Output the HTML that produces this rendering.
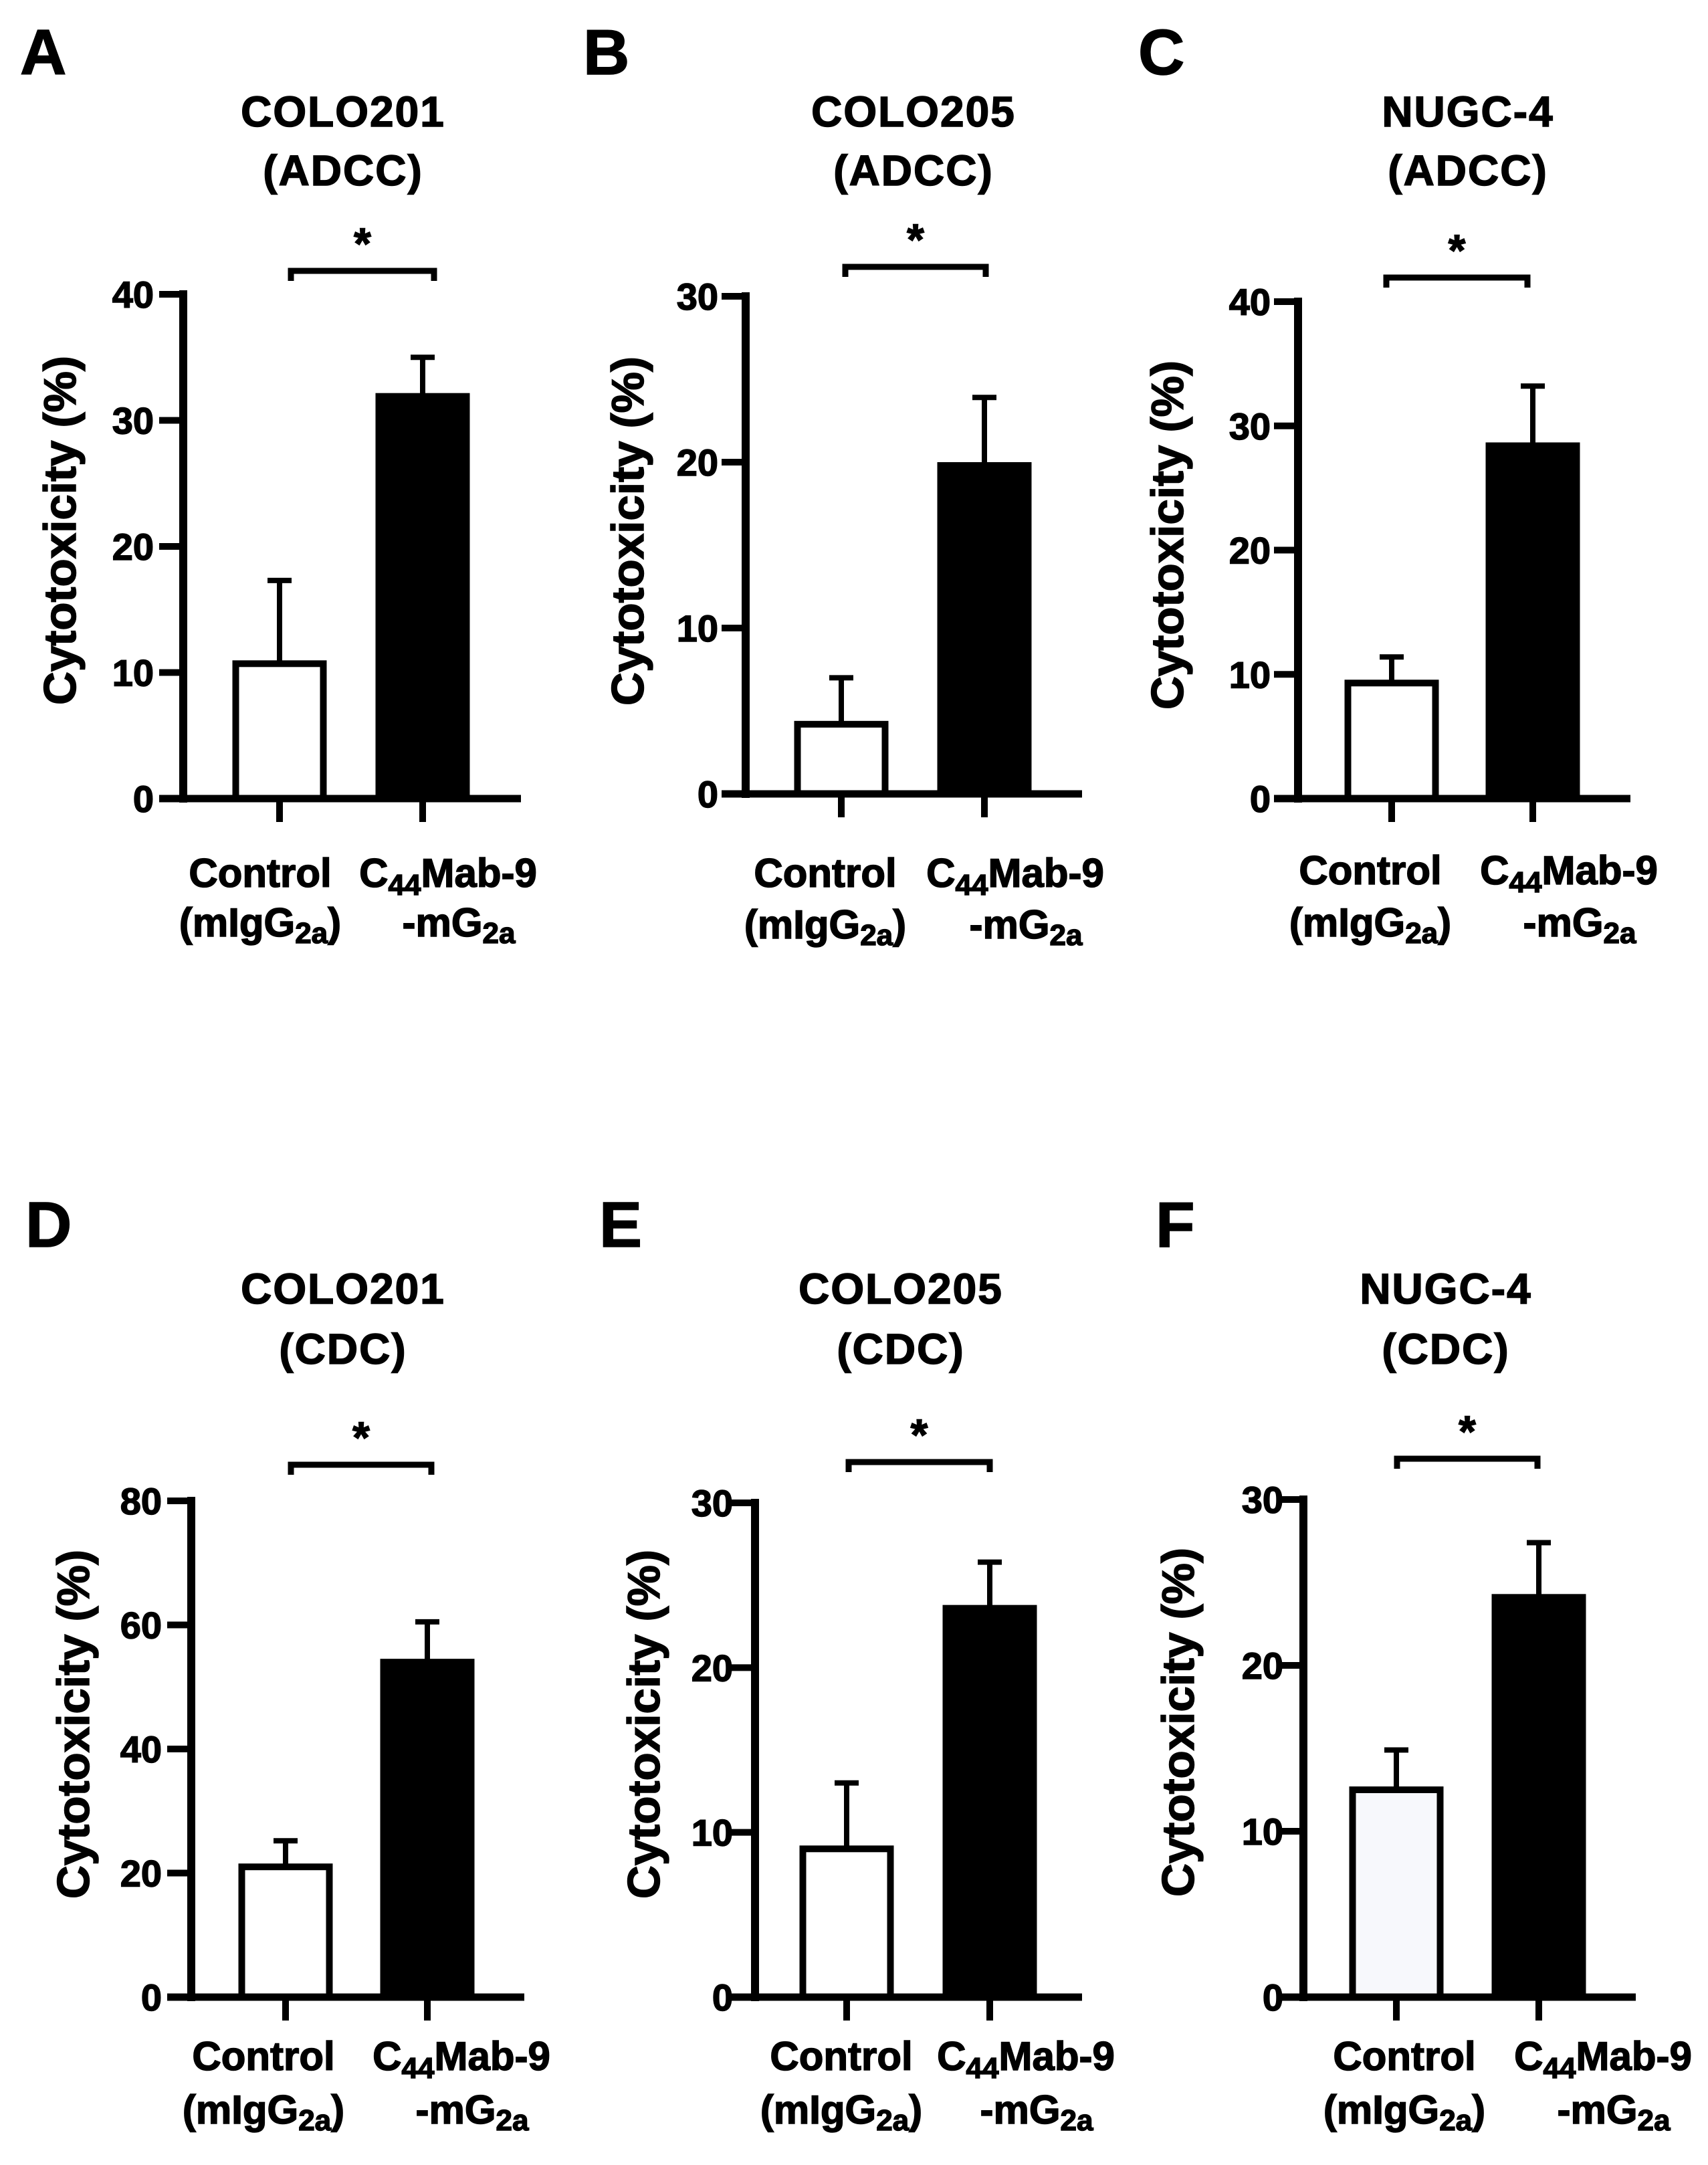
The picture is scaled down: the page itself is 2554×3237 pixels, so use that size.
<!DOCTYPE html>
<html><head><meta charset="utf-8"><style>
html,body{margin:0;padding:0;background:#fff;}
svg{display:block;}
text{font-family:"Liberation Sans",Arial,sans-serif;font-weight:bold;fill:#000;stroke:#000;stroke-width:1.5;}
</style></head><body>
<svg id="fig" width="2554" height="3237" viewBox="0 0 2554 3237" xmlns="http://www.w3.org/2000/svg"></svg>
<script>
// ---- data ----
const panelLetters = ["A","B","C","D","E","F"];
const titleLine1 = ["COLO201","COLO205","NUGC-4","COLO201","COLO205","NUGC-4"];
const titleLine2 = ["(ADCC)","(ADCC)","(ADCC)","(CDC)","(CDC)","(CDC)"];
const yMax = [40,30,40,80,30,30];
const yTicks = [[0,10,20,30,40],[0,10,20,30],[0,10,20,30,40],[0,20,40,60,80],[0,10,20,30],[0,10,20,30]];
const controlValues = [10.7,4.2,9.3,21.0,9.0,12.5];
const controlErrors = [6.6,2.8,2.1,4.2,4.0,2.4];
const mabValues = [31.9,19.8,28.4,54.0,23.6,24.1];
const mabErrors = [3.1,4.1,4.8,6.5,2.8,3.3];

// ---- layout (pixel geometry, not data) ----
const L = [
 {ax:274,yT:440,y0:1194,xr:779,t1:418,t2:632,by:405,bx1:435,bx2:649,lx:30,tcx:513,tr:230,atx:113,c1:389,c2:670,tb1:189,tb2:277,xb1:1326,xb2:1400,lb:111,ctrlFill:"#fff",ac:793},
 {ax:1115,yT:443,y0:1187,xr:1618,t1:1258,t2:1472,by:399,bx1:1264,bx2:1474,lx:872,tcx:1366,tr:1074,atx:962,c1:1234,c2:1518,tb1:189,tb2:277,xb1:1326,xb2:1403,lb:111,ctrlFill:"#fff",ac:794},
 {ax:1941,yT:451,y0:1194,xr:2438,t1:2081,t2:2292,by:415,bx1:2073,bx2:2284,lx:1702,tcx:2195,tr:1900,atx:1769,c1:2049,c2:2346,tb1:189,tb2:277,xb1:1322,xb2:1400,lb:111,ctrlFill:"#fff",ac:800},
 {ax:286,yT:2244,y0:2986,xr:784,t1:427,t2:639,by:2190,bx1:435,bx2:645,lx:38,tcx:513,tr:242,atx:133,c1:394,c2:690,tb1:1949,tb2:2039,xb1:3095,xb2:3175,lb:1864,ctrlFill:"#fff",ac:2578},
 {ax:1129,yT:2247,y0:2986,xr:1618,t1:1266,t2:1480,by:2186,bx1:1269,bx2:1480,lx:896,tcx:1347,tr:1096,atx:986,c1:1258,c2:1534,tb1:1949,tb2:2039,xb1:3095,xb2:3175,lb:1864,ctrlFill:"#fff",ac:2578},
 {ax:1949,yT:2242,y0:2986,xr:2446,t1:2088,t2:2301,by:2181,bx1:2089,bx2:2299,lx:1728,tcx:2162,tr:1919,atx:1785,c1:2100,c2:2397,tb1:1949,tb2:2039,xb1:3095,xb2:3175,lb:1864,ctrlFill:"#f7f8fc",ac:2575}
];
const NS="http://www.w3.org/2000/svg";
const svg=document.getElementById('fig');
function mk(tag,attrs,parent){const e=document.createElementNS(NS,tag);for(const k in attrs)e.setAttribute(k,attrs[k]);(parent||svg).appendChild(e);return e;}

for(let i=0;i<6;i++){
  const g=L[i];
  const grp=mk('g',{});
  
  
  const y=v=>g.y0-(v/yMax[i])*(g.y0-g.yT);

  let t=mk('text',{x:g.lx,y:g.lb,'font-size':96},grp); t.textContent=panelLetters[i];
  
  
  t=mk('text',{x:g.tcx,y:g.tb1,'font-size':64,'text-anchor':'middle','letter-spacing':2},grp); t.textContent=titleLine1[i];
  
  
  t=mk('text',{x:g.tcx,y:g.tb2,'font-size':64,'text-anchor':'middle','letter-spacing':2},grp); t.textContent=titleLine2[i];
  
  

  // y axis title
  t=mk('text',{x:0,y:0,'font-size':68,'text-anchor':'middle',textLength:522,lengthAdjust:'spacingAndGlyphs',transform:`translate(${g.atx},${g.ac}) rotate(-90)`},grp);
  t.textContent='Cytotoxicity (%)';
  
  

  // bars
  const bw=141;
  const cTop=y(controlValues[i]);
  let r=mk('rect',{x:g.t1-bw/2+5,y:cTop,width:bw-10,height:g.y0-cTop,fill:g.ctrlFill,stroke:'#000','stroke-width':10},grp);
  
  
  const mTop=y(mabValues[i]);
  r=mk('rect',{x:g.t2-bw/2,y:mTop-5,width:bw,height:g.y0-mTop+5,fill:'#000'},grp);
  
  

  // error bars
  const errs=[[g.t1,controlValues[i],controlErrors[i],'error-bar-control'],[g.t2,mabValues[i],mabErrors[i],'error-bar-c44mab9']];
  for(const [cx,v,e,nm] of errs){
    const eg=mk('g',{stroke:'#000','stroke-width':8,fill:'none'},grp);
    
    
    mk('line',{x1:cx,y1:y(v),x2:cx,y2:y(v+e)},eg);
    mk('line',{x1:cx-18,y1:y(v+e),x2:cx+18,y2:y(v+e)},eg);
  }

  // axes
  let a=mk('line',{x1:g.ax,y1:g.yT-6,x2:g.ax,y2:g.y0+6,stroke:'#000','stroke-width':12},grp);
  
  
  a=mk('line',{x1:g.ax-36,y1:g.y0,x2:g.xr,y2:g.y0,stroke:'#000','stroke-width':11},grp);
  
  
  for(const tv of yTicks[i]){
    const ty=y(tv);
    if(tv>0){mk('line',{x1:g.ax-36,y1:ty,x2:g.ax,y2:ty,stroke:'#000','stroke-width':10},grp);}
    t=mk('text',{x:g.tr,y:ty+20,'font-size':56,'text-anchor':'end'},grp); t.textContent=String(tv);
    
    
  }
  for(const tx of [g.t1,g.t2]) mk('line',{x1:tx,y1:g.y0,x2:tx,y2:g.y0+35,stroke:'#000','stroke-width':10},grp);

  // significance bracket
  const br=mk('path',{d:`M${g.bx1} ${g.by+15} V${g.by} H${g.bx2} V${g.by+15}`,stroke:'#000','stroke-width':9,fill:'none'},grp);
  
  
  t=mk('text',{x:(g.bx1+g.bx2)/2,y:g.by-18,'font-size':66,'text-anchor':'middle'},grp); t.textContent='*';
  
  

  // x labels
  t=mk('text',{x:g.c1,y:g.xb1,'font-size':60,'text-anchor':'middle'},grp); t.textContent='Control';
  
  
  t=mk('text',{x:g.c1,y:g.xb2,'font-size':60,'text-anchor':'middle'},grp);
  t.innerHTML='(mIgG<tspan font-size="44" dy="10">2a</tspan><tspan dy="-10">)</tspan>';
  
  
  t=mk('text',{x:g.c2,y:g.xb1,'font-size':60,'text-anchor':'middle'},grp);
  t.innerHTML='C<tspan font-size="44" dy="12">44</tspan><tspan dy="-12">Mab-9</tspan>';
  
  
  t=mk('text',{x:g.c2+16,y:g.xb2,'font-size':60,'text-anchor':'middle'},grp);
  t.innerHTML='-mG<tspan font-size="44" dy="10">2a</tspan>';
  
  
}
</script>
</body></html>
